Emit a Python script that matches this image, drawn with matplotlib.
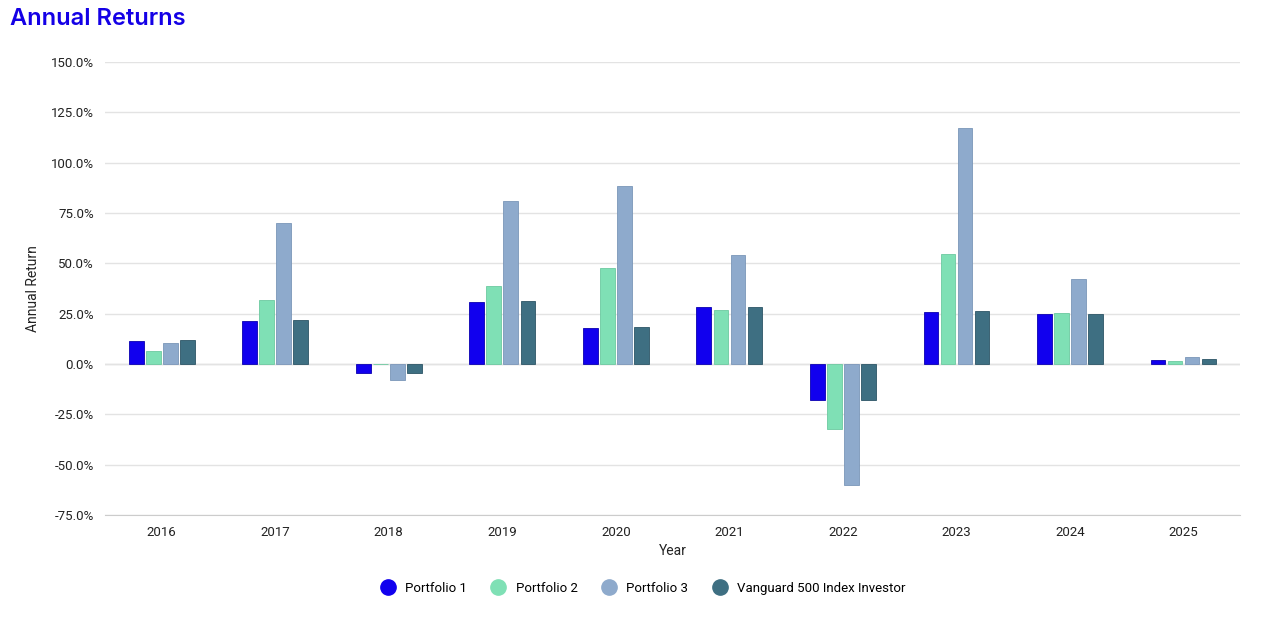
import numpy as np
import matplotlib
matplotlib.use('Agg')
import matplotlib.pyplot as plt
from matplotlib.ticker import FuncFormatter
from matplotlib.lines import Line2D

plt.rcParams['font.family'] = ['Roboto', 'DejaVu Sans']

# data
years = ['2016', '2017', '2018', '2019', '2020', '2021', '2022', '2023', '2024', '2025']
portfolio_1 = [11.6, 21.4, -4.4, 30.9, 17.6, 28.5, -18.0, 25.6, 24.6, 2.0]
portfolio_2 = [6.2, 31.8, 0.0, 38.8, 47.8, 26.9, -32.5, 54.5, 25.2, 1.2]
portfolio_3 = [10.4, 69.8, -8.1, 81.0, 88.4, 54.0, -60.0, 117.1, 42.0, 3.2]
vanguard_500 = [11.8, 21.7, -4.5, 31.3, 18.3, 28.5, -18.1, 26.1, 24.9, 2.5]

series = ['Portfolio 1', 'Portfolio 2', 'Portfolio 3', 'Vanguard 500 Index Investor']
colors = ['#1100ee', '#7fe0b5', '#8eaacc', '#3e6f82']
edges = ['#0a00b0', '#6cc9a0', '#7a96b8', '#2c5566']

fig = plt.figure(figsize=(12.8, 6.21), dpi=100)
ax = fig.add_axes([0.082, 0.171, 0.887, 0.729])

x = np.arange(len(years))
w = 0.13
step = 0.15
for i, vals in enumerate([portfolio_1, portfolio_2, portfolio_3, vanguard_500]):
    ax.bar(x + (i - 1.5) * step, vals, width=w, color=colors[i],
           edgecolor=edges[i], linewidth=0.6, zorder=3)

ax.set_xlim(-0.5, len(years) - 0.5)
ax.set_ylim(-75, 150)
ax.set_yticks(np.arange(-75, 151, 25))
ax.yaxis.set_major_formatter(FuncFormatter(lambda v, p: f'{v:.1f}%'))
ax.set_xticks(x)
ax.set_xticklabels(years)
ax.grid(axis='y', color='#e3e3e3', linewidth=1, zorder=0)
ax.axhline(0, color='#dddddd', linewidth=1, zorder=1)
for s in ['top', 'right', 'left']:
    ax.spines[s].set_visible(False)
ax.spines['bottom'].set_color('#cccccc')
ax.tick_params(axis='both', length=0, labelsize=9.5, colors='#222222')
ax.tick_params(axis='x', pad=8)
ax.tick_params(axis='y', pad=8)
ax.set_xlabel('Year', fontsize=10, color='#222222', labelpad=4)
ax.set_ylabel('Annual Return', fontsize=10, color='#222222', labelpad=8)

fig.text(0.008, 0.987, 'Annual Returns', color='#1400e6', fontsize=17,
         fontweight='semibold', va='top', ha='left', family=['Inter', 'DejaVu Sans'])

handles = [Line2D([0], [0], marker='o', linestyle='none', markersize=11,
                  markerfacecolor=c, markeredgecolor=c) for c in colors]
fig.legend(handles, series, loc='center', bbox_to_anchor=(0.5, 0.053), ncol=4,
           frameon=False, fontsize=9.5, handletextpad=0.3, columnspacing=1.4)

fig.savefig('out.png', dpi=100)
